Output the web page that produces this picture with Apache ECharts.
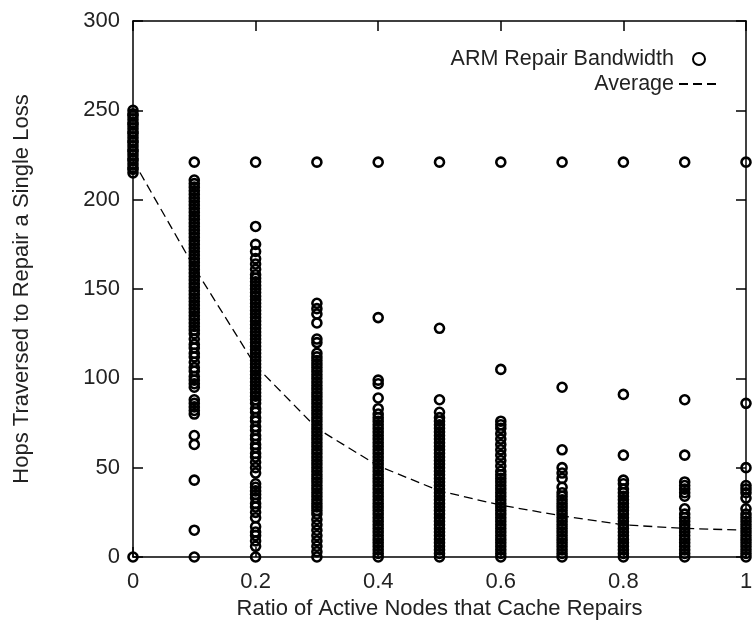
<!DOCTYPE html>
<html>
<head>
<meta charset="utf-8">
<script src="https://cdn.jsdelivr.net/npm/echarts@6/dist/echarts.min.js"></script>
<style>html,body{margin:0;padding:0;background:#fff}#c{width:752px;height:620px}</style>
</head>
<body>
<div id="c"></div>
<script>
var ratios = [0, 0.1, 0.2, 0.3, 0.4, 0.5, 0.6, 0.7, 0.8, 0.9, 1.0];
var xTickLabels = ['0', '0.2', '0.4', '0.6', '0.8', '1'];
var yTickLabels = ['0', '50', '100', '150', '200', '250', '300'];

var hops00 = [0, 215, 217, 218, 220, 222, 223, 225, 227, 228, 230, 232, 233, 235, 237, 238, 240, 242, 243, 245, 247, 248, 250];
var hops01 = [0, 15, 43, 63, 68, 80, 82, 84, 86, 88, 95, 97, 99, 101, 104, 106, 109, 112, 114, 117, 119, 122, 125, 127, 129, 131, 133, 135, 137, 139, 141, 143, 145, 147, 149, 151, 153, 155, 157, 159, 161, 163, 165, 167, 169, 171, 173, 175, 177, 179, 181, 183, 185, 187, 189, 191, 193, 195, 197, 199, 201, 203, 205, 207, 209, 211, 221];
var hops02 = [0, 6, 9, 12, 14, 17, 22, 25, 28, 30, 33, 35, 37, 39, 41, 47, 50, 53, 56, 58, 61, 63, 66, 68, 71, 73, 76, 78, 81, 83, 86, 88, 90, 92, 94, 96, 98, 100, 102, 104, 106, 108, 110, 112, 114, 116, 118, 120, 122, 124, 126, 128, 130, 132, 134, 136, 138, 140, 142, 144, 146, 148, 150, 152, 154, 156, 158, 161, 164, 167, 171, 175, 185, 221];
var hops03 = [0, 3, 6, 9, 12, 15, 18, 21, 24, 26, 28, 30, 32, 34, 36, 38, 40, 42, 44, 46, 48, 50, 52, 54, 56, 58, 60, 62, 64, 66, 68, 70, 72, 74, 76, 78, 80, 82, 84, 86, 88, 90, 92, 94, 96, 98, 100, 102, 104, 106, 108, 110, 112, 114, 120, 122, 131, 136, 139, 142, 221];
var hops04 = [0, 2, 4, 6, 8, 10, 12, 14, 16, 18, 20, 22, 24, 26, 28, 30, 32, 34, 36, 38, 40, 42, 44, 46, 48, 50, 52, 54, 56, 58, 60, 62, 64, 66, 68, 70, 72, 74, 76, 78, 80, 83, 89, 97, 99, 134, 221];
var hops05 = [0, 2, 4, 6, 8, 10, 12, 14, 16, 18, 20, 22, 24, 26, 28, 30, 32, 34, 36, 38, 40, 42, 44, 46, 48, 50, 52, 54, 56, 58, 60, 62, 64, 66, 68, 70, 72, 74, 76, 78, 81, 88, 128, 221];
var hops06 = [0, 2, 4, 6, 8, 10, 12, 14, 16, 18, 20, 22, 24, 26, 28, 30, 32, 34, 36, 38, 40, 42, 44, 46, 48, 51, 54, 57, 60, 63, 66, 69, 72, 74, 76, 105, 221];
var hops07 = [0, 2, 4, 6, 8, 10, 12, 14, 16, 18, 20, 22, 24, 26, 28, 30, 32, 34, 36, 39, 44, 47, 50, 60, 95, 221];
var hops08 = [0, 2, 4, 6, 8, 10, 12, 14, 16, 18, 20, 22, 24, 26, 28, 30, 32, 34, 36, 38, 41, 43, 57, 91, 221];
var hops09 = [0, 2, 4, 6, 8, 10, 12, 14, 16, 18, 20, 22, 24, 27, 34, 36, 38, 40, 42, 57, 88, 221];
var hops10 = [0, 2, 4, 6, 8, 10, 12, 14, 16, 18, 20, 22, 24, 27, 33, 36, 38, 40, 50, 86, 221];

var averageHops = [222, 162, 107, 72, 51, 37, 29, 23, 18, 16, 15];

var columns = [hops00, hops01, hops02, hops03, hops04, hops05, hops06, hops07, hops08, hops09, hops10];
var scatterData = [];
columns.forEach(function (col, i) {
  col.forEach(function (v) { scatterData.push([ratios[i], v]); });
});
var lineData = ratios.map(function (r, i) { return [r, averageHops[i]]; });

var FONT = 'Liberation Sans, Arial, Helvetica, sans-serif';
var TXT = '#222';

var chart = echarts.init(document.getElementById('c'), null, {renderer: 'canvas'});
chart.setOption({
  animation: false,
  backgroundColor: '#fff',
  grid: {left: 133, right: 6, top: 21, bottom: 63, containLabel: false, outerBoundsMode: 'none'},
  legend: {
    orient: 'vertical',
    right: 27,
    top: 43,
    align: 'right',
    itemWidth: 40,
    itemHeight: 12,
    itemGap: 3,
    textStyle: {fontFamily: FONT, fontSize: 21.5, color: TXT, lineHeight: 22},
    data: [
      {name: 'ARM Repair Bandwidth'},
      {name: 'Average', itemStyle: {opacity: 0}}
    ]
  },
  xAxis: [{
    type: 'value', min: 0, max: 1, interval: 0.2, position: 'bottom',
    name: 'Ratio of Active Nodes that Cache Repairs',
    nameLocation: 'middle', nameGap: 36,
    nameTextStyle: {fontFamily: FONT, fontSize: 22, color: TXT},
    axisLine: {onZero: false, lineStyle: {color: '#000', width: 1.5}},
    axisTick: {inside: true, length: 10, lineStyle: {color: '#000', width: 1.5}},
    axisLabel: {margin: 14, fontFamily: FONT, fontSize: 22, color: TXT,
      formatter: function (v) { return xTickLabels[Math.round(v / 0.2)]; }},
    splitLine: {show: false}
  }, {
    type: 'value', min: 0, max: 1, interval: 0.2, position: 'top',
    axisLine: {onZero: false, lineStyle: {color: '#000', width: 1.5}},
    axisTick: {inside: true, length: 10, lineStyle: {color: '#000', width: 1.5}},
    axisLabel: {show: false}, splitLine: {show: false}
  }],
  yAxis: [{
    type: 'value', min: 0, max: 300, interval: 50, position: 'left',
    name: 'Hops Traversed to Repair a Single Loss',
    nameLocation: 'middle', nameGap: 100,
    nameTextStyle: {fontFamily: FONT, fontSize: 22, color: TXT},
    axisLine: {show: true, onZero: false, lineStyle: {color: '#000', width: 1.5}},
    axisTick: {show: true, inside: true, length: 10, lineStyle: {color: '#000', width: 1.5}},
    axisLabel: {margin: 13, fontFamily: FONT, fontSize: 22, color: TXT,
      formatter: function (v) { return yTickLabels[Math.round(v / 50)]; }},
    splitLine: {show: false}
  }, {
    type: 'value', min: 0, max: 300, interval: 50, position: 'right',
    axisLine: {show: true, onZero: false, lineStyle: {color: '#000', width: 1.5}},
    axisTick: {show: true, inside: true, length: 10, lineStyle: {color: '#000', width: 1.5}},
    axisLabel: {show: false}, splitLine: {show: false}
  }],
  series: [{
    name: 'ARM Repair Bandwidth',
    type: 'scatter',
    xAxisIndex: 0, yAxisIndex: 0,
    data: scatterData,
    symbol: 'circle',
    symbolSize: 9,
    clip: false,
    itemStyle: {color: 'rgba(255,255,255,0)', borderColor: '#000', borderWidth: 2.6, opacity: 1},
    emphasis: {disabled: true},
    z: 2
  }, {
    name: 'Average',
    type: 'line',
    xAxisIndex: 0, yAxisIndex: 0,
    data: lineData,
    symbol: 'none',
    lineStyle: {color: '#000', width: 1.3, type: [9, 5]},
    itemStyle: {color: '#000'},
    emphasis: {disabled: true},
    z: 3
  }]
});
</script>
</body>
</html>
